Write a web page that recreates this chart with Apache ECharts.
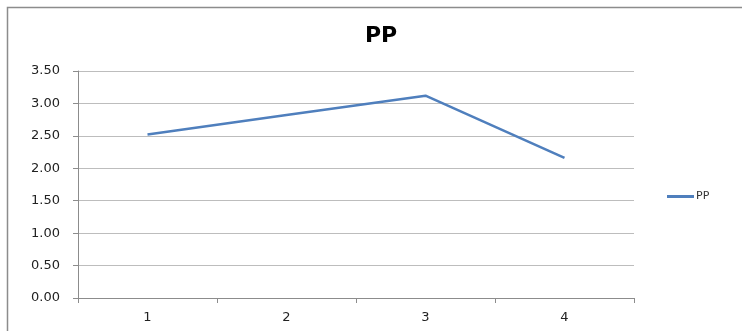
<!DOCTYPE html>
<html><head><meta charset="utf-8">
<script src="https://cdn.jsdelivr.net/npm/echarts@6/dist/echarts.min.js"></script>
<style>html,body{margin:0;padding:0;background:#fff}#c{width:742px;height:331px}</style>
</head><body><div id="c"></div>
<script>
const categories = ['1','2','3','4'];
const seriesName = 'PP';
const values = [2.52, 2.82, 3.12, 2.16];
const yTicks = {min:0, max:3.5, interval:0.5};

const chart = echarts.init(document.getElementById('c'));
chart.setOption({
  animation:false,
  backgroundColor:'#fff',
  graphic:[{type:'rect',shape:{x:7.5,y:7.5,width:800,height:400},style:{fill:'none',stroke:'#8c8c8c',lineWidth:1.5},silent:true}],
  title:{text:'PP',left:381,top:25,textAlign:'center',padding:0,textStyle:{fontFamily:'DejaVu Sans',fontWeight:'bold',fontSize:22,color:'#000'}},
  legend:{data:[seriesName],left:667,top:191,padding:0,itemWidth:27,itemHeight:3,itemGap:0,icon:'rect',
    textStyle:{fontFamily:'DejaVu Sans',fontSize:11,color:'#333',padding:[0,0,0,-3]}},
  grid:{left:78,right:108,top:71,bottom:33,containLabel:false},
  xAxis:{type:'category',data:categories,boundaryGap:true,
    axisLine:{lineStyle:{color:'#8c8c8c',width:1}},
    axisTick:{show:true,length:5,lineStyle:{color:'#8c8c8c'}},
    axisLabel:{fontFamily:'DejaVu Sans',fontSize:13,color:'#222',margin:13},
    splitLine:{show:false}},
  yAxis:{type:'value',min:yTicks.min,max:yTicks.max,interval:yTicks.interval,
    axisLine:{show:true,lineStyle:{color:'#8c8c8c',width:1}},
    axisTick:{show:true,length:5,lineStyle:{color:'#8c8c8c'}},
    axisLabel:{fontFamily:'DejaVu Sans',fontSize:13,color:'#222',margin:18,formatter:v=>v.toFixed(2)},
    splitLine:{show:true,lineStyle:{color:'#bdbdbd',width:1}}},
  series:[{name:seriesName,type:'line',data:values,symbol:'none',
    lineStyle:{color:'#4f7fbd',width:2.5},itemStyle:{color:'#4f7fbd'}}]
});
</script></body></html>
